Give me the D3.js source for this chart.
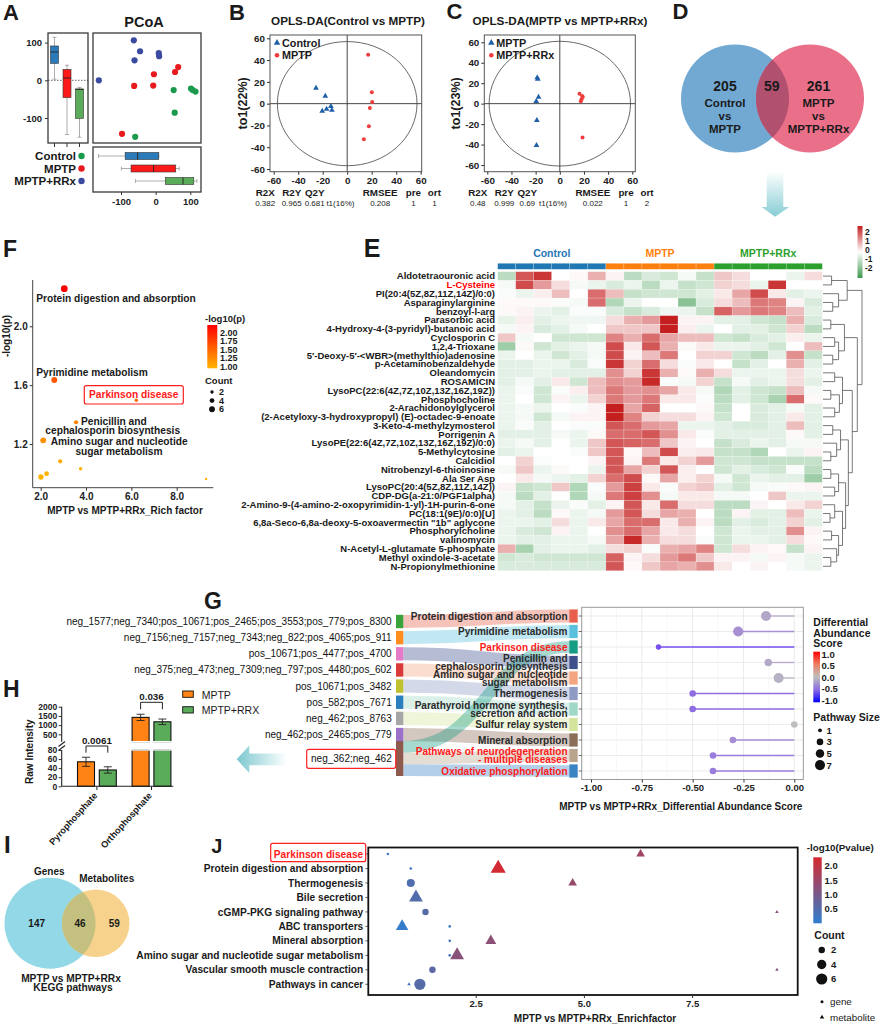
<!DOCTYPE html>
<html><head><meta charset="utf-8">
<script src="https://cdn.jsdelivr.net/npm/d3@7"></script>
<style>
body{margin:0;background:#fff;}
svg{display:block;font-family:Arial,"Liberation Sans",Helvetica,sans-serif;}
</style></head><body>
<svg id="fig" width="885" height="1024"></svg>
<script>
// ================= DATA =================
// Panel A (PCoA)
const pcoaGroups = ["Control","MPTP","MPTP+RRx"];
const pcoaControl = [[52,-26],[102,-22],[107,-26],[115,-30],[55,-86],[-59,-150]];
const pcoaMPTP = [[65,35],[56,22],[-5,16],[-62,-15],[-7,-14],[-97,-142]];
const pcoaRRx = [[-63,106],[-45,77],[-61,53],[9,72],[10,64],[-164,0]];
const pcoaBoxY = [[3,45,75,91,114],[-144,-46,6,29,40],[-151,-101,-24,-23,-19]];
const pcoaBoxX = [[-165,-88,-52,9,9],[-99,-71,-6,58,68],[-58,28,79,110,119]];
const pcoaTicks = [-100,0,100];
// Panels B, C (OPLS-DA)
const oplsTicks = [-60,-40,-20,0,20,40,60];
const oplsBControl = [[-25.5,14.3],[-17.9,7],[-13.3,-2.5],[-12.5,-6],[-20.4,-6.8],[-16.8,-5]];
const oplsBMPTP = [[17.1,45],[20.1,10.4],[20.4,1.5],[18.5,-4],[17.7,-20.8],[13.6,-32.8]];
const oplsCMPTP = [[-18.7,25.4],[-18.2,24],[-17.6,6.5],[-19.5,2.3],[-19,-16.3],[-19.3,-40.8]];
const oplsCRRx = [[16.3,9.8],[18.5,7.4],[18,4.2],[17.4,2.3],[19,6.5],[18.8,-33]];
const statHeads = ["R2X","R2Y","Q2Y","","RMSEE","pre","ort"];
const statB = ["0.382","0.965","0.681","t1(16%)","0.208","1","1"];
const statC = ["0.48","0.999","0.69","t1(16%)","0.022","1","2"];
// Panel D (Venn)
const vennD = [205, 59, 261];
// Panel F (enrichment bubble)
const richLabels = ["Protein digestion and absorption","Pyrimidine metabolism","Parkinson disease"];
const richFactor = [3.04,2.6,6.22,3.56,2.11,2.86,3.76,2.01,2.26,9.3];
const richLogP = [2.256,1.635,1.497,1.348,1.225,1.082,1.032,0.976,0.998,0.962];
const richCount = [8,6,2,3,6,3,2,5,4,1];
const richXTicks = [2,4,6,8];
const richYTicks = [1.2,1.6,2.0];
// Panel E (heatmap)
const heatGroups = ["Control","MPTP","MPTP+RRx"];
const heatRows = ["Aldotetraouronic acid","L-Cysteine","PI(20:4(5Z,8Z,11Z,14Z)/0:0)","Asparaginylarginine","benzoyl-l-arg","Parasorbic acid","4-Hydroxy-4-(3-pyridyl)-butanoic acid","Cyclosporin C","1,2,4-Trioxane","5\u2032-Deoxy-5\u2032-<WBR>(methylthio)adenosine","p-Acetaminobenzaldehyde","Oleandomycin","ROSAMICIN","LysoPC(22:6(4Z,7Z,10Z,13Z,16Z,19Z))","Phosphocholine","2-Arachidonoylglycerol","(2-Acetyloxy-3-hydroxypropyl) (E)-octadec-9-enoate","3-Keto-4-methylzymosterol","Porrigenin A","LysoPE(22:6(4Z,7Z,10Z,13Z,16Z,19Z)/0:0)","5-Methylcytosine","Calcidiol","Nitrobenzyl-6-thioinosine","Ala Ser Asp","LysoPC(20:4(5Z,8Z,11Z,14Z))","CDP-DG(a-21:0/PGF1alpha)","2-Amino-9-(4-amino-2-oxopyrimidin-1-yl)-1H-purin-6-one","PC(18:1(9E)/0:0)[U]","6,8a-Seco-6,8a-deoxy-5-oxoavermectin \"1b\" aglycone","Phosphorylcholine","valinomycin","N-Acetyl-L-glutamate 5-phosphate","Methyl oxindole-3-acetate","N-Propionylmethionine"];
const heatValues = [
[-0.7,1.5,1.8,0,0.05,0.7, 0.1,-0.7,-0.4,-0.5,-0.1,-0.6, 0.5,0.3,0,0,-0.2,0.3],
[-0.1,1.6,0.9,0.3,-0.1,-0.2, -0.4,-0.2,-0.7,-0.2,-0.6,-0.5, 0.4,0.3,-0.2,1.8,0,0],
[-0.05,-0.2,0.15,0.6,0,1.3, 0.6,-0.6,-0.5,-0.5,-0.5,-0.3, 0.2,0.8,1.6,0.2,-0.3,-0.2],
[0.05,0.05,0.05,-0.05,-0.1,1.3, -0.8,-0.2,0,0,-1.2,-0.4, 0.3,0.6,1.2,1.1,0.1,-0.4],
[0.05,0.1,-0.2,-0.3,-0.05,-0.05, -0.4,-0.6,-0.4,-0.15,-0.2,-0.6, 1.4,0.9,1.2,1.1,0.6,-0.3],
[-0.25,0.15,-0.3,-0.2,-0.15,-0.15, 0.3,0.7,0.9,2.0,0.1,0.1, -0.3,-0.3,-0.5,-0.6,0.7,-0.4],
[-0.1,0.1,-0.4,-0.3,-0.1,0, 0.5,0.5,0.5,2.3,0.15,-0.2, 0,-0.3,-0.3,-0.5,0.4,-0.7],
[0.5,-0.1,0,-0.5,-0.5,-0.5, 1.1,0.7,1.3,0.8,0.6,0.6, -0.5,-0.6,-0.4,-0.3,0.15,-0.2],
[-1.0,0.05,-0.5,-0.3,-0.2,-0.1, 1.6,0.2,1.5,0.7,0.05,0.2, -0.2,-0.2,-0.3,-0.5,0,0.6],
[-0.2,0,-0.2,-0.5,-0.3,-0.1, 1.6,0.1,0.6,1.2,0,0.4, 0.4,-0.5,-0.7,-0.3,1.0,-0.6],
[-0.3,-0.3,-0.2,-0.2,-0.4,-0.05, 1.8,0.4,1.3,0.3,-0.05,0.2, 0,-0.6,-0.3,0,0.7,-0.3],
[-0.3,-0.3,-0.2,-0.3,-0.3,-0.3, 1.0,0.4,1.8,0.7,0.05,0.7, 0.3,-0.2,-0.2,-0.2,0.3,-0.2],
[-0.3,-0.1,-0.3,0.2,-0.5,0.6, 1.0,0.9,1.9,-0.05,-0.1,0.4, -0.6,-0.1,-0.3,-0.2,0.3,-0.3],
[-0.2,-0.05,-0.5,-0.05,0.15,0.6, 1.2,0.9,1.0,0.8,0.2,-0.1, -0.8,-0.3,-0.5,-0.6,0.6,-0.1],
[-0.2,0,-0.5,0.1,-0.2,0.4, 1.2,0.9,1.2,0.2,0.2,-0.05, -0.7,-0.3,-0.5,-0.9,1.3,0.05],
[-0.2,-0.1,-0.2,0,-0.05,0.1, 2.0,0.8,1.4,0,0,0.05, -0.6,0,-0.4,-0.3,-0.1,-0.3],
[-0.2,-0.1,-0.5,-0.1,0.1,0.1, 2.1,1.1,0.4,0.3,0.3,0.1, -0.5,0,-0.4,-0.3,0.2,-0.3],
[-0.2,-0.05,-0.3,0,-0.05,-0.05, 1.5,1.3,0.9,0.8,-0.2,-0.2, -0.3,-0.4,-0.4,-0.3,0.6,-0.3],
[-0.3,-0.3,-0.3,-0.1,-0.2,0.05, 1.3,1.3,1.5,1.0,0.2,-0.05, -0.3,-0.3,-0.3,-0.3,0.05,-0.3],
[-0.2,-0.1,-0.3,0,-0.2,0.5, 1.5,1.4,1.3,0.5,0.1,0, -0.6,-0.4,-0.2,-0.3,-0.1,-0.1],
[-0.3,-0.2,0,0,-0.05,0.5, 1.5,0.05,0.6,1.6,0.15,0.2, -0.6,-0.6,-0.8,0,-0.2,0.1],
[0,0.4,-0.05,0,0,0.1, 1.5,0.1,1.2,0.2,0.4,0.9, -0.5,-0.5,-0.6,-0.6,-0.6,-0.6],
[-0.1,0.5,-0.2,0.05,0,-0.2, 1.5,0.8,0.4,1.5,0.15,0, -0.5,-0.3,-0.4,-0.5,-0.05,-0.7],
[0,0.2,-0.1,-0.2,-0.3,0.4, 1.3,1.6,0.05,0.8,0.15,0.4, -0.1,-0.5,-0.2,-0.3,-0.3,-1.0],
[0.1,-0.6,-0.5,0.5,-0.8,-0.05, 0.9,1.7,0.2,-0.05,0.4,0.5, -0.3,-0.5,-0.1,-0.05,0.05,0.1],
[-0.1,-0.7,-0.3,0,-0.8,-0.1, 1.2,1.7,1.0,-0.1,0.2,0.2, -0.1,-0.1,0,0.5,-0.2,-0.2],
[-0.1,-0.3,-0.6,-0.2,-0.05,-0.3, 0.1,1.5,0.2,1.3,0.3,0.3, -0.7,-0.7,0.1,0,0.2,0.4],
[-0.2,-0.3,-0.7,0.05,-0.2,-0.1, 0.9,1.5,0.3,0.8,0.7,0, -0.7,0.1,-0.3,-0.3,0.6,-0.2],
[-0.2,-0.2,-0.3,0.3,-0.2,0.2, 0.8,1.3,1.3,0.2,0.7,0.1, -0.7,-0.3,-0.4,-0.3,0.4,-0.3],
[-0.2,-0.4,-0.5,0.1,-0.2,0, 1.0,1.3,0.8,0.2,0.3,0, -0.5,-0.2,-0.3,-0.3,1.0,0.1],
[-0.2,-0.3,-0.3,-0.2,-0.2,-0.1, 0.8,1.9,0.7,0.3,0.3,-0.05, -0.5,-0.2,-0.2,-0.3,0.3,0.05],
[0.7,-0.9,-0.3,-0.2,-0.2,-0.3, 0.3,0.4,-0.05,0.7,0.8,1.1, -0.5,0.3,0.1,0.05,-0.6,0.1],
[-0.5,-0.4,-0.5,-0.5,-0.5,-0.5, 1.4,0.1,0.3,0.9,1.2,0.5, 0.1,0.1,-0.1,0.1,-0.1,-0.2],
[-0.4,-0.4,-0.4,-0.4,-0.4,-0.4, 1.5,0.05,0.5,0.8,0.7,1.0, 0.2,0,0.1,0,-0.1,-0.2]
];
const heatLegendTicks = [2,1,0,-1,-2];
const dendroTree = {h:1.0,c:[
  {h:0.62,c:[{h:0.22,c:[0,1]},{h:0.4,c:[2,{h:0.25,c:[3,4]}]}]},
  {h:0.88,c:[
    {h:0.55,c:[{h:0.2,c:[5,6]},{h:0.4,c:[{h:0.3,c:[7,8]},{h:0.25,c:[9,10]}]}]},
    {h:0.75,c:[
      {h:0.5,c:[{h:0.3,c:[11,12]},{h:0.42,c:[{h:0.2,c:[13,14]},{h:0.3,c:[15,16]}]}]},
      {h:0.65,c:[
        {h:0.45,c:[{h:0.25,c:[17,18]},{h:0.35,c:[19,{h:0.2,c:[20,21]}]}]},
        {h:0.58,c:[{h:0.4,c:[{h:0.2,c:[22,23]},{h:0.3,c:[24,25]}]},
                   {h:0.5,c:[{h:0.3,c:[26,{h:0.18,c:[27,28]}]},{h:0.4,c:[{h:0.22,c:[29,30]},{h:0.35,c:[31,{h:0.2,c:[32,33]}]}]}]}]}
      ]}
    ]}
  ]}
]};
// Panel G (sankey + lollipop)
const sankeySources = ["neg_1577;neg_7340;pos_10671;pos_2465;pos_3553;pos_779;pos_8300","neg_7156;neg_7157;neg_7343;neg_822;pos_4065;pos_911","pos_10671;pos_4477;pos_4700","neg_375;neg_473;neg_7309;neg_797;pos_4480;pos_602","pos_10671;pos_3482","pos_582;pos_7671","neg_462;pos_8763","neg_462;pos_2465;pos_779","neg_362;neg_462"];
const gPathways = ["Protein digestion and absorption","Pyrimidine metabolism","Parkinson disease","Penicillin and\ncephalosporin biosynthesis","Amino sugar and nucleotide\nsugar metabolism","Thermogenesis","Parathyroid hormone synthesis,\nsecretion and action","Sulfur relay system","Mineral absorption","Pathways of neurodegeneration\n- multiple diseases","Oxidative phosphorylation"];
const gHighlight = [2,9,10];
const sankeyLinks = [[0,0],[1,1],[2,3],[3,4],[4,5],[5,6],[6,7],[7,8],[8,2],[8,9],[8,10]];
const gScores = [-0.139,-0.276,-0.668,-0.128,-0.077,-0.5,-0.5,0,-0.302,-0.4,-0.4];
const gSizes = [7,7,2,4,7,3,3,3,3,3,3];
const gXTicks = [-1,-0.75,-0.5,-0.25,0];
const gScoreTicks = [1,0.5,0,-0.5,-1];
const gSizeTicks = [1,3,5,7];
// Panel H (bar chart)
const hCats = ["Pyrophosphate","Orthophosphate"];
const hSeries = ["MPTP","MPTP+RRX"];
const hMPTP = [54,1420];
const hMPTPErr = [10,170];
const hRRX = [36,1180];
const hRRXErr = [7,150];
const hPvals = ["0.0061","0.036"];
const hLowTicks = [0,20,40,60,80];
const hHighTicks = [500,1000,1500,2000];
// Panel I (Venn)
const vennI = [147,46,59];
// Panel J (KEGG bubble)
const jPathways = ["Parkinson disease","Protein digestion and absorption","Thermogenesis","Bile secretion","cGMP-PKG signaling pathway","ABC transporters","Mineral absorption","Amino sugar and nucleotide sugar metabolism","Vascular smooth muscle contraction","Pathways in cancer"];
// [row, enrichfactor, count, -log10(p)]
const jGenes = [[0,0.47,1,0.2],[1,1.0,1,0.3],[2,1.0,3,0.5],[4,1.34,2,0.6],[5,1.9,1,0.25],[6,1.9,1,0.3],[7,1.9,1,0.3],[8,1.5,2,0.65],[9,1.21,6,0.6]];
const jMetabolites = [[0,6.31,2,1.55],[1,3.02,6,2.25],[2,4.74,2,1.45],[3,1.12,5,0.55],[4,9.46,1,1.2],[5,0.8,4,0.15],[6,2.85,3,1.3],[7,2.07,5,1.25],[8,9.46,1,1.2],[9,0.96,1,0.3]];
const jXTicks = [2.5,5.0,7.5];
const jPTicks = [2.0,1.5,1.0,0.5];
const jCountTicks = [2,4,6];

// ================= HELPERS =================
const FONT = 'Arial, "Liberation Sans", Helvetica, sans-serif';
const svg = d3.select("#fig");
const defs = svg.append("defs");
function T(g,x,y,s,o){o=o||{};const t=g.append("text").attr("x",x).attr("y",y).text(s)
  .attr("font-size",o.size||10).attr("font-weight",o.weight||"bold")
  .attr("text-anchor",o.anchor||"start").attr("fill",o.fill||"#1a1a1a");
  if(o.rot!=null)t.attr("transform",`rotate(${o.rot},${x},${y})`);return t;}
function styleAxis(a,size,keepDomain){a.attr("font-family",FONT);
  a.selectAll("text").attr("font-size",size||10).attr("font-weight","bold").attr("fill","#222");
  a.selectAll(".tick line").attr("stroke","#333");
  if(!keepDomain)a.select(".domain").remove();}
function line(g,x1,y1,x2,y2,c,w){return g.append("line").attr("x1",x1).attr("y1",y1).attr("x2",x2).attr("y2",y2).attr("stroke",c||"#333").attr("stroke-width",w||1);}
function vgrad(id,stops){const gr=defs.append("linearGradient").attr("id",id).attr("x1",0).attr("y1",0).attr("x2",0).attr("y2",1);
  stops.forEach(s=>gr.append("stop").attr("offset",s[0]).attr("stop-color",s[1]));}
function hgrad(id,stops){const gr=defs.append("linearGradient").attr("id",id).attr("x1",0).attr("y1",0).attr("x2",1).attr("y2",0);
  stops.forEach(s=>gr.append("stop").attr("offset",s[0]).attr("stop-color",s[1]));}
const plain=d=>String(d);

// Panel letters
T(svg,3,20,"A",{size:22});
T(svg,229,19.5,"B",{size:22});
T(svg,446.5,19,"C",{size:22});
T(svg,672.5,19,"D",{size:22});
T(svg,372,256.5,"E",{size:25,anchor:"middle"});
T(svg,3,256.5,"F",{size:23});
T(svg,213,609,"G",{size:23,anchor:"middle"});
T(svg,3,697,"H",{size:23});
T(svg,4,853,"I",{size:24});
T(svg,216.7,853,"J",{size:20,anchor:"middle"});

// ================= PANEL A =================
(function(){
  const g=svg.append("g");
  const x=d3.scaleLinear().domain([-100,100]).range([121,190.3]);
  const y=d3.scaleLinear().domain([-100,100]).range([118,42.6]);
  const boxCol=["#2b7bba","#ff1a1a","#5aab5a"];
  const ptCol={Control:"#1b9a4e",MPTP:"#e8191c","MPTP+RRx":"#3a4b9f"};
  T(g,144,26.7,"PCoA",{size:14.5,anchor:"middle"});
  const fr=(x0,y0,x1,y1)=>g.append("rect").attr("x",x0).attr("y",y0).attr("width",x1-x0).attr("height",y1-y0).attr("fill","none").attr("stroke","#3a3a3a").attr("stroke-width",1.3);
  line(g,48,y(0),88,y(0),"#666",1).attr("stroke-dasharray","1.5,1.5");
  const la=g.append("g").attr("transform","translate(48,0)").call(d3.axisLeft(y).tickValues(pcoaTicks).tickSize(3).tickFormat(plain));
  styleAxis(la,9.5);
  const ba=g.append("g").attr("transform","translate(0,192)").call(d3.axisBottom(x).tickValues(pcoaTicks).tickSize(3).tickPadding(3).tickFormat(plain));
  styleAxis(ba,9.5);
  const bx=d3.scalePoint().domain([0,1,2]).range([54.5,79.5]);
  [0,1,2].forEach(i=>line(g,bx(i),143,bx(i),147,"#333",1));
  pcoaBoxY.forEach((b,i)=>{const cx=bx(i),w=8;
    line(g,cx,y(b[0]),cx,y(b[4]),"#999",0.8);
    line(g,cx-2,y(b[0]),cx+2,y(b[0]),"#999",0.8);line(g,cx-2,y(b[4]),cx+2,y(b[4]),"#999",0.8);
    g.append("rect").attr("x",cx-w/2).attr("y",y(b[3])).attr("width",w).attr("height",y(b[1])-y(b[3])).attr("fill",boxCol[i]).attr("stroke","#333").attr("stroke-width",0.6);
    line(g,cx-w/2,y(b[2]),cx+w/2,y(b[2]),"#222",0.9);});
  const by=d3.scalePoint().domain([0,1,2]).range([156,181]);
  pcoaBoxX.forEach((b,i)=>{const cy=by(i),h=7;
    line(g,x(b[0]),cy,x(b[4]),cy,"#999",0.8);
    line(g,x(b[0]),cy-2,x(b[0]),cy+2,"#999",0.8);line(g,x(b[4]),cy-2,x(b[4]),cy+2,"#999",0.8);
    g.append("rect").attr("x",x(b[1])).attr("y",cy-h/2).attr("width",x(b[3])-x(b[1])).attr("height",h).attr("fill",boxCol[i]).attr("stroke","#333").attr("stroke-width",0.6);
    line(g,x(b[2]),cy-h/2,x(b[2]),cy+h/2,"#222",0.9);});
  [[pcoaRRx,"MPTP+RRx"],[pcoaMPTP,"MPTP"],[pcoaControl,"Control"]].forEach(([pts,k])=>{
    g.selectAll(null).data(pts).enter().append("circle").attr("cx",d=>x(d[0])).attr("cy",d=>y(d[1])).attr("r",3.1).attr("fill",ptCol[k]);});
  fr(48,33,88,143); fr(93,33,201,143); fr(93,147,201,192);
  pcoaGroups.forEach((k,i)=>{const cy=by(i);
    T(g,76,cy+4,k,{size:11.5,anchor:"end"});
    g.append("circle").attr("cx",81.5).attr("cy",cy).attr("r",3.2).attr("fill",ptCol[k]);});
})();

// ================= PANELS B, C =================
function oplsPanel(o){
  const g=svg.append("g");
  const x=d3.scaleLinear().domain([-60,60]).range(o.xr);
  const y=d3.scaleLinear().domain([-60,60]).range(o.yr);
  T(g,o.tx,25.3,o.title,{size:11.7,anchor:"middle"});
  line(g,x(0),o.fy[0],x(0),o.fy[1],"#333",0.9);
  line(g,o.fx[0],y(0),o.fx[1],y(0),"#333",0.9);
  g.append("ellipse").attr("cx",x(0)).attr("cy",y(0)).attr("rx",x(o.er[0])-x(0)).attr("ry",y(0)-y(o.er[1])).attr("fill","none").attr("stroke","#444").attr("stroke-width",0.8);
  g.append("rect").attr("x",o.fx[0]).attr("y",o.fy[0]).attr("width",o.fx[1]-o.fx[0]).attr("height",o.fy[1]-o.fy[0]).attr("fill","none").attr("stroke","#555").attr("stroke-width",1);
  const xa=g.append("g").attr("transform",`translate(0,${o.fy[1]})`).call(d3.axisBottom(x).tickValues(oplsTicks).tickSize(3).tickPadding(2).tickFormat(plain));
  styleAxis(xa,9.8);
  const ya=g.append("g").attr("transform",`translate(${o.fx[0]},0)`).call(d3.axisLeft(y).tickValues(oplsTicks).tickSize(3).tickPadding(2).tickFormat(plain));
  styleAxis(ya,9.8);
  T(g,o.ylx,(o.fy[0]+o.fy[1])/2,o.ylab,{size:12.5,anchor:"middle",rot:-90,weight:"bold"});
  const tri=d3.symbol().type(d3.symbolTriangle).size(14);
  g.selectAll(null).data(o.a).enter().append("path").attr("d",tri).attr("transform",d=>`translate(${x(d[0])},${y(d[1])})`).attr("fill","#1f5fa8");
  g.selectAll(null).data(o.b).enter().append("circle").attr("cx",d=>x(d[0])).attr("cy",d=>y(d[1])).attr("r",2).attr("fill","#f03c3c");
  const lx=o.fx[0]+7;
  g.append("path").attr("d",d3.symbol().type(d3.symbolTriangle).size(18)).attr("transform",`translate(${lx},${42.8})`).attr("fill","#1f5fa8");
  T(g,lx+5,46.8,o.la,{size:10.8});
  g.append("circle").attr("cx",lx).attr("cy",55.3).attr("r",2.3).attr("fill","#f03c3c");
  T(g,lx+5,59.3,o.lb,{size:10.8});
  const offs=[-82,-55.5,-32.5,-6.8,33,66.2,87.2];
  statHeads.forEach((s,i)=>{ if(s) T(g,x(0)+offs[i],196,s,{size:9.8,anchor:"middle"}); });
  o.stats.forEach((s,i)=>T(g,x(0)+offs[i],206.2,s,{size:8,anchor:"middle",weight:"normal"}));
}
oplsPanel({xr:[273.7,420.7],yr:[169,38.3],fx:[270,421.7],fy:[35,171.7],er:[57,57],tx:348,title:"OPLS-DA(Control vs MPTP)",ylab:"to1(22%)",ylx:247,a:oplsBControl,b:oplsBMPTP,la:"Control",lb:"MPTP",stats:statB});
oplsPanel({xr:[487.3,632.3],yr:[165,42.3],fx:[484.3,635.3],fy:[35,171.7],er:[58.5,61],tx:560,title:"OPLS-DA(MPTP vs MPTP+RRx)",ylx:460,ylab:"to1(23%)",a:oplsCMPTP,b:oplsCRRx,la:"MPTP",lb:"MPTP+RRx",stats:statC});

// ================= PANEL D =================
(function(){
  const g=svg.append("g");
  const c1=[735,98.5],c2=[810,98.5],r=54;
  g.append("circle").attr("cx",c1[0]).attr("cy",c1[1]).attr("r",r).attr("fill","#71a9d3");
  g.append("circle").attr("cx",c2[0]).attr("cy",c2[1]).attr("r",r).attr("fill","#ea7089");
  defs.append("clipPath").attr("id","clipD").append("circle").attr("cx",c1[0]).attr("cy",c1[1]).attr("r",r);
  g.append("circle").attr("cx",c2[0]).attr("cy",c2[1]).attr("r",r).attr("fill","#b1506f").attr("clip-path","url(#clipD)");
  T(g,725,91,String(vennD[0]),{size:14,anchor:"middle"});
  T(g,771.7,91,String(vennD[1]),{size:14,anchor:"middle"});
  T(g,818.5,91,String(vennD[2]),{size:14,anchor:"middle"});
  ["Control","vs","MPTP"].forEach((s,i)=>T(g,725,107+i*13,s,{size:11.5,anchor:"middle"}));
  ["MPTP","vs","MPTP+RRx"].forEach((s,i)=>T(g,818.5,107+i*13,s,{size:11.5,anchor:"middle"}));
  vgrad("arrD",[[0,"#ffffff"],[1,"#86cdd4"]]);
  g.append("path").attr("d",d3.line()([[766.7,171.7],[783.3,171.7],[783.3,207],[789.3,207],[775,216.7],[761.7,207],[766.7,207]])+"Z").attr("fill","url(#arrD)");
})();

// ================= PANEL F =================
(function(){
  const g=svg.append("g");
  const x=d3.scaleLinear().domain([2,8]).range([40.7,176.7]);
  const y=d3.scaleLinear().domain([1.2,2.0]).range([444,326.3]);
  const col=d3.scaleLinear().domain([1.0,2.2]).range(["#ffb400","#ff0000"]).clamp(true);
  const rs=c=>1.2*Math.sqrt(c);
  line(g,32.7,280,32.7,487.7,"#444",1);
  line(g,32.7,487.7,213.3,487.7,"#444",1);
  const xa=g.append("g").attr("transform","translate(0,487.7)").call(d3.axisBottom(x).tickValues(richXTicks).tickSize(3).tickPadding(2));
  styleAxis(xa,10);
  const ya=g.append("g").attr("transform","translate(32.7,0)").call(d3.axisLeft(y).tickValues(richYTicks).tickSize(3).tickPadding(2).tickFormat(d3.format(".1f")));
  styleAxis(ya,10);
  T(g,125,514,"MPTP vs MPTP+RRx_Rich factor",{size:10,anchor:"middle"});
  T(g,10,336,"-log10(p)",{size:10,anchor:"middle",rot:-90});
  richFactor.forEach((f,i)=>g.append("circle").attr("cx",x(f)).attr("cy",y(richLogP[i])).attr("r",rs(richCount[i])).attr("fill",col(richLogP[i])));
  T(g,116,301.5,richLabels[0],{size:10.2,anchor:"middle"});
  T(g,92,375.5,richLabels[1],{size:10.2,anchor:"middle"});
  g.append("rect").attr("x",84.3).attr("y",385.7).attr("width",99).attr("height",18.3).attr("rx",2).attr("fill","#fff").attr("stroke","#ff2020").attr("stroke-width",1.2);
  T(g,133.7,397.5,richLabels[2],{size:10.2,anchor:"middle",fill:"#ff1a1a"});
  g.append("circle").attr("cx",x(richFactor[2])).attr("cy",y(richLogP[2])).attr("r",rs(richCount[2])).attr("fill",col(richLogP[2]));
  T(g,81,425,"Penicillin and",{size:10.2});
  T(g,112.7,434,"cephalosporin biosynthesis",{size:10.2,anchor:"middle"});
  T(g,50.7,444.5,"Amino sugar and nucleotide",{size:10.2});
  T(g,119,454.5,"sugar metabolism",{size:10.2,anchor:"middle"});
  // legend
  T(g,205,322,"-log10(p)",{size:9.5});
  vgrad("gradF",[[0,col(2.2)],[1,col(0.96)]]);
  g.append("rect").attr("x",207.3).attr("y",325).attr("width",10).attr("height",43.3).attr("fill","url(#gradF)");
  const ly=d3.scaleLinear().domain([1.0,2.0]).range([366.7,332.7]);
  [2.0,1.75,1.5,1.25,1.0].forEach(v=>T(g,220,ly(v)+3.2,d3.format(".2f")(v),{size:9}));
  T(g,205,384,"Count",{size:9.5});
  [2,4,6].forEach((c,i)=>{const cy=392+i*8.6;g.append("circle").attr("cx",212).attr("cy",cy).attr("r",rs(c)).attr("fill","#111");T(g,219,cy+3.2,String(c),{size:9});});
})();

// ================= PANEL E =================
(function(){
  const g=svg.append("g");
  const hx=d3.scaleBand().domain(d3.range(18)).range([497.7,822.3]);
  const hy=d3.scaleBand().domain(d3.range(34)).range([271.7,570.7]);
  const hc=d3.scaleLinear().domain([-2,0,2]).range(["#3d9a4f","#ffffff","#c41e1e"]).clamp(true);
  const gc=["#1f77b4","#ff7f0e","#2ca02c"];
  heatValues.forEach((row,i)=>row.forEach((v,j)=>g.append("rect").attr("x",hx(j)).attr("y",hy(i)).attr("width",hx.bandwidth()).attr("height",hy.bandwidth()).attr("fill",hc(v)).attr("stroke","#ffffff").attr("stroke-opacity",0.35).attr("stroke-width",0.5)));
  d3.range(18).forEach(j=>g.append("rect").attr("x",hx(j)).attr("y",263.3).attr("width",hx.bandwidth()).attr("height",6).attr("fill",gc[Math.floor(j/6)]).attr("stroke","#fff").attr("stroke-opacity",0.4).attr("stroke-width",0.5));
  heatGroups.forEach((s,i)=>T(g,(hx(i*6)+hx(i*6+5)+hx.bandwidth())/2,257,s,{size:10.5,anchor:"middle",fill:gc[i]}));
  heatRows.forEach((s,i)=>T(g,495,hy(i)+hy.bandwidth()/2+3.3,s,{size:9.5,anchor:"end",fill:i===1?"#ff0000":"#1a1a1a"}));
  // dendrogram
  const dx=h=>823+h*39;
  function node(n){
    if(typeof n==="number") return {y:hy(n)+hy.bandwidth()/2,x:dx(0)};
    const kids=n.c.map(node),xh=dx(n.h);
    kids.forEach(k=>line(g,k.x,k.y,xh,k.y,"#555",0.8));
    line(g,xh,kids[0].y,xh,kids[kids.length-1].y,"#555",0.8);
    return {y:(kids[0].y+kids[kids.length-1].y)/2,x:xh};
  }
  node(dendroTree);
  // color legend
  vgrad("gradE",[[0,hc(2.2)],[0.5,"#ffffff"],[1,hc(-2.2)]]);
  g.append("rect").attr("x",857.5).attr("y",226).attr("width",5).attr("height",52).attr("fill","url(#gradE)");
  const ly=d3.scaleLinear().domain([2,-2]).range([231.7,267.7]);
  heatLegendTicks.forEach(v=>T(g,865,ly(v)+3,String(v),{size:8.5}));
})();

// ================= PANEL G =================
(function(){
  const g=svg.append("g");
  const pc=["#e8604c","#5bc0de","#169c84","#3f4f8c","#f4a582","#8e9bc4","#9fd8c6","#d3e59c","#8c6d58","#b9a58e","#3b84c4"];
  const sc=["#3aa33a","#ff8c1f","#e57ac8","#d93a3a","#bfc12e","#2c7fbf","#a6a6a6","#9a70c8","#8f5a4e"];
  const py=d3.scalePoint().domain(d3.range(gPathways.length)).range([616,771]);
  const sy=i=>621.5+16.15*i;
  const bw=12;
  const srcRange=sankeySources.map((s,i)=>i<8?[sy(i)-6.7,sy(i)+6.7]:[741,776]);
  const srcUsed=sankeySources.map(()=>0);
  const lk=d3.linkHorizontal();
  sankeyLinks.forEach(([s,t])=>{
    const r=srcRange[s];const n=sankeyLinks.filter(l=>l[0]===s).length;const h=(r[1]-r[0])/n;
    const ys=r[0]+h*srcUsed[s]+h/2;srcUsed[s]++;
    g.append("path").attr("d",lk({source:[403.3,ys],target:[569.3,py(t)]})).attr("fill","none").attr("stroke",pc[t]).attr("stroke-opacity",0.38).attr("stroke-width",Math.min(h,bw+1));
  });
  sankeySources.forEach((s,i)=>{const r=srcRange[i];
    g.append("rect").attr("x",396).attr("y",r[0]).attr("width",7.3).attr("height",r[1]-r[0]).attr("fill",sc[i]);
    const cy=(r[0]+r[1])/2;
    T(g,391.7,cy+3.5,s,{size:10,weight:"normal",anchor:"end",fill:"#111"});});
  g.append("rect").attr("x",306.7).attr("y",749.3).attr("width",89).attr("height",19).attr("rx",2).attr("fill","none").attr("stroke","#ff2020").attr("stroke-width",1.2);
  gPathways.forEach((s,i)=>{
    g.append("rect").attr("x",569.3).attr("y",py(i)-6.6).attr("width",8.4).attr("height",13.2).attr("fill",pc[i]);
    const lines=s.split("\n");const red=gHighlight.includes(i);
    lines.forEach((ln,k)=>T(g,567.5,py(i)+3.5+(lines.length===2?(k===0?-4:4):0),ln,{size:10,anchor:"end",fill:red?"#ff1a1a":"#2a2a2a"}));
  });
  // lollipop
  const x=d3.scaleLinear().domain([-1,0]).range([591,794.3]);
  const fx0=581.7,fx1=803.3,fy0=607.3,fy1=779.5;
  d3.range(-1.125,0.01,0.25).forEach(v=>{if(x(v)>fx0)line(g,x(v),fy0,x(v),fy1,"#f3f3f3",0.6);});
  gXTicks.forEach(v=>line(g,x(v),fy0,x(v),fy1,"#e6e6e6",0.8));
  gPathways.forEach((s,i)=>line(g,fx0,py(i),fx1,py(i),"#e6e6e6",0.8));
  g.append("rect").attr("x",fx0).attr("y",fy0).attr("width",fx1-fx0).attr("height",fy1-fy0).attr("fill","none").attr("stroke","#9a9a9a").attr("stroke-width",1);
  gPathways.forEach((s,i)=>line(g,fx0-3,py(i),fx0,py(i),"#444",0.8));
  const col=d3.scaleLinear().domain([-1,0,1]).range(["#0000ff","#bebebe","#ff0000"]).interpolate(d3.interpolateLab);
  const rs=s=>1.9*Math.sqrt(s);
  gScores.forEach((v,i)=>{line(g,x(v),py(i),x(0),py(i),col(v),1.3);});
  gScores.forEach((v,i)=>g.append("circle").attr("cx",x(v)).attr("cy",py(i)).attr("r",rs(gSizes[i])).attr("fill",col(v)));
  const xa=g.append("g").attr("transform",`translate(0,${fy1})`).call(d3.axisBottom(x).tickValues(gXTicks).tickSize(3).tickPadding(2).tickFormat(d=>d3.format(".2f")(d).replace("\u2212","-")));
  styleAxis(xa,9.5);
  T(g,680.8,810,"MPTP vs MPTP+RRx_Differential Abundance Score",{size:10,anchor:"middle"});
  // legend
  ["Differential","Abundance","Score"].forEach((s,i)=>T(g,813.3,626+i*10.5,s,{size:10.5}));
  vgrad("gradG",[[0,col(1)],[0.25,col(0.5)],[0.5,col(0)],[0.75,col(-0.5)],[1,col(-1)]]);
  g.append("rect").attr("x",813.3).attr("y",651.7).attr("width",6.7).attr("height",50.6).attr("fill","url(#gradG)");
  const ly=d3.scaleLinear().domain([1,-1]).range([654,700]);
  gScoreTicks.forEach(v=>T(g,821.5,ly(v)+3.5,d3.format(".1f")(v).replace("\u2212","-"),{size:9.5}));
  T(g,813.3,721,"Pathway Size",{size:10.5});
  gSizeTicks.forEach((s,i)=>{const cy=730.3+i*11.6;g.append("circle").attr("cx",820).attr("cy",cy).attr("r",rs(s)).attr("fill","#111");T(g,826.5,cy+3.5,String(s),{size:9.5});});
  // arrow G->H
  hgrad("arrH",[[0,"#7cc8cf"],[1,"#ffffff"]]);
  g.append("path").attr("d",d3.line()([[236.7,759.3],[249.3,745.5],[249.3,753.5],[287,753.5],[287,765.2],[249.3,765.2],[249.3,773]])+"Z").attr("fill","url(#arrH)");
})();

// ================= PANEL H =================
(function(){
  const g=svg.append("g");
  const x=d3.scaleBand().domain(hCats).range([69.6,178.8]);
  const yL=d3.scaleLinear().domain([0,80]).range([786.3,750]);
  const yU=d3.scaleLinear().domain([100,2000]).range([741.7,706.7]);
  const cols=["#ff8415","#5aab5a"];
  const off=[-10.9,10.9],bw=17;
  const vals=[hMPTP,hRRX],errs=[hMPTPErr,hRRXErr];
  hCats.forEach((c,i)=>{const cx=x(c)+x.bandwidth()/2;
    [0,1].forEach(s=>{const v=vals[s][i],e=errs[s][i],bx=cx+off[s]-bw/2,mx=cx+off[s];
      if(v<=80){
        g.append("rect").attr("x",bx).attr("y",yL(v)).attr("width",bw).attr("height",yL(0)-yL(v)).attr("fill",cols[s]).attr("stroke","#111").attr("stroke-width",1.1);
        line(g,mx,yL(v-e),mx,yL(v+e),"#222",0.9);line(g,mx-4,yL(v+e),mx+4,yL(v+e),"#222",0.9);line(g,mx-4,yL(v-e),mx+4,yL(v-e),"#222",0.9);
      } else {
        g.append("rect").attr("x",bx).attr("y",yL(80)).attr("width",bw).attr("height",yL(0)-yL(80)).attr("fill",cols[s]).attr("stroke","#111").attr("stroke-width",1.1);
        g.append("rect").attr("x",bx).attr("y",yU(v)).attr("width",bw).attr("height",yU(100)-yU(v)).attr("fill",cols[s]).attr("stroke","#111").attr("stroke-width",1.1);
        line(g,bx-1,yL(80),bx+bw+1,yL(80),"#fff",1.4);line(g,bx-1,yU(100),bx+bw+1,yU(100),"#fff",1.4);
        line(g,mx,yU(v-e),mx,yU(v+e),"#222",0.9);line(g,mx-4,yU(v+e),mx+4,yU(v+e),"#222",0.9);line(g,mx-4,yU(v-e),mx+4,yU(v-e),"#222",0.9);
      }});
    line(g,cx,786.3,cx,790,"#222",1);
  });
  line(g,61.7,750,61.7,786.3,"#222",1.1);line(g,61.7,706.7,61.7,741.7,"#222",1.1);
  line(g,61.7,786.3,173.3,786.3,"#222",1.1);
  const al=g.append("g").attr("transform","translate(61.7,0)").call(d3.axisLeft(yL).tickValues(hLowTicks).tickSize(3).tickPadding(1.5).tickFormat(plain));
  styleAxis(al,8.5);
  const au=g.append("g").attr("transform","translate(61.7,0)").call(d3.axisLeft(yU).tickValues(hHighTicks).tickSize(3).tickPadding(1.5).tickFormat(plain));
  styleAxis(au,8.5);
  line(g,58.5,746.5,65,741.5,"#222",1.1);line(g,58.5,750.5,65,745.5,"#222",1.1);
  const bracket=(i,ytop,yleg,ytxt)=>{const cx=x(hCats[i])+x.bandwidth()/2,a=cx+off[0],b=cx+off[1];
    g.append("path").attr("d",d3.line()([[a,yleg],[a,ytop],[b,ytop],[b,yleg]])).attr("fill","none").attr("stroke","#222").attr("stroke-width",1);
    T(g,cx,ytxt,hPvals[i],{size:9.8,anchor:"middle"});};
  bracket(0,746,752.7,744);
  bracket(1,702.3,709.3,700);
  T(g,33.5,751.7,"Raw Intensity",{size:10,anchor:"middle",rot:-90});
  hCats.forEach(c=>{const cx=x(c)+x.bandwidth()/2;T(g,cx+1,796,c,{size:9.2,anchor:"end",rot:-48});});
  hSeries.forEach((s,i)=>{g.append("rect").attr("x",182.7).attr("y",691+i*15.7).attr("width",10.6).attr("height",6.3).attr("fill",cols[i]).attr("stroke","#111").attr("stroke-width",0.9);
    T(g,201.7,698.5+i*15.7,s,{size:10.5,weight:"normal"});});
})();

// ================= PANEL I =================
(function(){
  const g=svg.append("g");
  const c1=[50,923.3],r1=45.5,c2=[95.7,923.3],r2=33.8;
  g.append("circle").attr("cx",c1[0]).attr("cy",c1[1]).attr("r",r1).attr("fill","#93d8e6");
  g.append("circle").attr("cx",c2[0]).attr("cy",c2[1]).attr("r",r2).attr("fill","#f6d28c");
  defs.append("clipPath").attr("id","clipI").append("circle").attr("cx",c1[0]).attr("cy",c1[1]).attr("r",r1);
  g.append("circle").attr("cx",c2[0]).attr("cy",c2[1]).attr("r",r2).attr("fill","#c4c07f").attr("clip-path","url(#clipI)");
  T(g,36.7,927,String(vennI[0]),{size:10,anchor:"middle"});
  T(g,80,927,String(vennI[1]),{size:10,anchor:"middle"});
  T(g,114.3,927,String(vennI[2]),{size:10,anchor:"middle"});
  T(g,49.3,875,"Genes",{size:10,anchor:"middle"});
  T(g,106.7,881.7,"Metabolites",{size:10,anchor:"middle"});
  T(g,71,982,"MPTP vs MPTP+RRx",{size:10.2,anchor:"middle"});
  T(g,73,990.5,"KEGG pathways",{size:10.2,anchor:"middle"});
})();

// ================= PANEL J =================
(function(){
  const g=svg.append("g");
  const x=d3.scaleLinear().domain([0,2.5]).range([367.5,475.7]);
  const y=d3.scalePoint().domain(d3.range(jPathways.length)).range([854,984.3]);
  const col=d3.scaleLinear().domain([0.06,2.3]).range(["#2e7fcf","#d7282f"]).clamp(true);
  const rs=c=>d3.scaleLinear().domain([0,1]).range([1.3,5.6])(Math.sqrt(Math.max(0,(c-1)/5)));
  const fx0=368.3,fx1=797.7,fy0=847.5,fy1=995;
  jPathways.forEach((s,i)=>line(g,fx0-3,y(i),fx0,y(i),"#444",0.8));
  jPathways.forEach((s,i)=>T(g,363.3,y(i)+3.6,s,{size:10.2,anchor:"end",fill:i===0?"#ff1a1a":"#1a1a1a"}));
  g.append("rect").attr("x",270.7).attr("y",843.3).attr("width",95).attr("height",18.4).attr("rx",2).attr("fill","none").attr("stroke","#ff2020").attr("stroke-width",1.2);
  g.append("rect").attr("x",fx0).attr("y",fy0).attr("width",fx1-fx0).attr("height",fy1-fy0).attr("fill","none").attr("stroke","#111").attr("stroke-width",1.8);
  const xa=g.append("g").attr("transform",`translate(0,${fy1})`).call(d3.axisBottom(x).tickValues(jXTicks).tickSize(3).tickPadding(2).tickFormat(d3.format(".1f")));
  styleAxis(xa,9.5);
  T(g,595,1021.5,"MPTP vs MPTP+RRx_Enrichfactor",{size:10,anchor:"middle"});
  jGenes.forEach(d=>g.append("circle").attr("cx",x(d[1])).attr("cy",y(d[0])).attr("r",rs(d[2])).attr("fill",col(d[3])));
  jMetabolites.forEach(d=>{const r=rs(d[2]);g.append("path").attr("d",d3.symbol().type(d3.symbolTriangle).size(Math.PI*r*r)()).attr("transform",`translate(${x(d[1])},${y(d[0])})`).attr("fill",col(d[3]));});
  T(g,806.7,851,"-log10(Pvalue)",{size:9.8});
  vgrad("gradJ",[[0,col(2.3)],[1,col(0.06)]]);
  g.append("rect").attr("x",813.3).attr("y",857.3).attr("width",8.4).attr("height",66).attr("fill","url(#gradJ)");
  const ly=d3.scaleLinear().domain([0.5,2.0]).range([909,866]);
  jPTicks.forEach(v=>T(g,824.5,ly(v)+3.4,d3.format(".1f")(v),{size:9.5}));
  T(g,814.3,938.5,"Count",{size:10.5});
  jCountTicks.forEach((c,i)=>{const cy=950+i*14.5;g.append("circle").attr("cx",821.7).attr("cy",cy).attr("r",rs(c)).attr("fill","#111");T(g,831,cy+3.4,String(c),{size:9.5});});
  g.append("circle").attr("cx",822).attr("cy",1001.7).attr("r",1.5).attr("fill","#111");
  T(g,830,1005,"gene",{size:9.8,weight:"normal"});
  g.append("path").attr("d",d3.symbol().type(d3.symbolTriangle).size(9)()).attr("transform","translate(822,1017.3)").attr("fill","#111");
  T(g,830,1020.5,"metabolite",{size:9.8,weight:"normal"});
})();
</script></body></html>
